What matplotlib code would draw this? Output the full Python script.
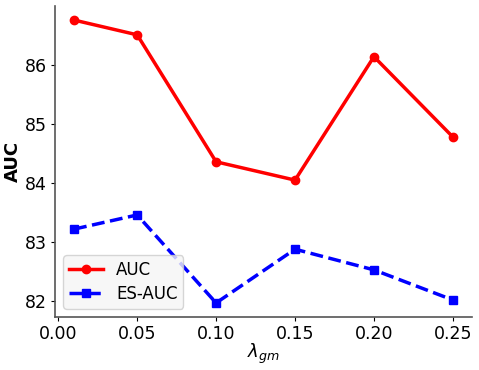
import matplotlib.pyplot as plt

lam = [0.01, 0.05, 0.10, 0.15, 0.20, 0.25]
auc = [86.76, 86.51, 84.36, 84.05, 86.14, 84.78]
es_auc = [83.22, 83.46, 81.97, 82.88, 82.53, 82.02]

fig, ax = plt.subplots(figsize=(4.79, 3.70), dpi=100)
ax.plot(lam, auc, color='red', marker='o', linewidth=2.5, markersize=6, label='AUC')
ax.plot(lam, es_auc, color='blue', marker='s', linestyle='--', linewidth=2.5, markersize=6, label='ES-AUC')

ax.set_xlabel(r'$\lambda_{gm}$', fontsize=13)
ax.set_ylabel('AUC', fontsize=13, fontweight='bold')
ax.xaxis.set_label_coords(0.5, -0.08)
ax.yaxis.set_label_coords(-0.08, 0.5)
ax.tick_params(labelsize=12.5, length=3, pad=3)
ax.set_xticks([0.00, 0.05, 0.10, 0.15, 0.20, 0.25])
ax.spines['top'].set_visible(False)
ax.spines['right'].set_visible(False)
for s in ['left', 'bottom']:
    ax.spines[s].set_color('#555555')
    ax.spines[s].set_linewidth(1.2)
ax.legend(loc='lower left', fontsize=12, facecolor='#f5f5f5',
          handlelength=2.0, borderpad=0.35, labelspacing=0.35)

fig.subplots_adjust(left=0.115, right=0.985, top=0.984, bottom=0.143)
plt.savefig('out.png')
